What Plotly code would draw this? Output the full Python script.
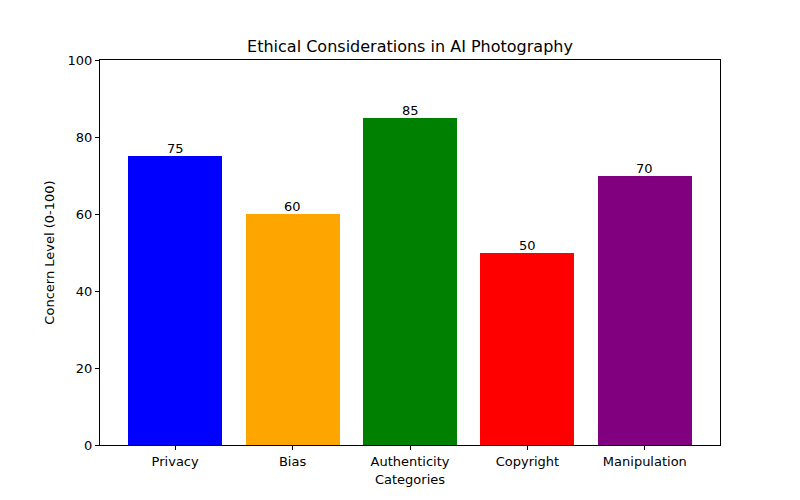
import plotly.graph_objects as go

categories = ["Privacy", "Bias", "Authenticity", "Copyright", "Manipulation"]
values = [75, 60, 85, 50, 70]
colors = ["blue", "orange", "green", "red", "purple"]
y_ticks = [0, 20, 40, 60, 80, 100]

font = "DejaVu Sans"
fig = go.Figure()
fig.add_trace(go.Bar(
    x=list(range(len(categories))), y=values, width=0.8,
    marker=dict(color=colors, line=dict(width=0)),
))
for i, v in enumerate(values):
    fig.add_annotation(x=i, y=v, text=str(v), showarrow=False, yanchor="bottom",
                       yshift=-2, font=dict(family=font, size=13, color="black"))
fig.update_layout(
    width=800, height=500,
    margin=dict(l=100, r=80, t=60, b=55),
    plot_bgcolor="white", paper_bgcolor="white",
    font=dict(family=font, size=13, color="black"),
    title=dict(text="Ethical Considerations in AI Photography", x=0.5125, xanchor="center",
               y=0.908, yanchor="middle", font=dict(family=font, size=16, color="black")),
    showlegend=False,
    bargap=0,
)
fig.update_xaxes(
    range=[-0.64, 4.64], tickmode="array", tickvals=list(range(len(categories))), ticktext=categories,
    showgrid=False, zeroline=False, showline=True, linecolor="black", linewidth=1, mirror=True,
    ticks="outside", ticklen=4, tickcolor="black",
    title=dict(text="Categories", standoff=7, font=dict(family=font, size=13)),
)
fig.update_yaxes(
    range=[0, 100], tickvals=y_ticks,
    showgrid=False, zeroline=False, showline=True, linecolor="black", linewidth=1, mirror=True,
    ticks="outside", ticklen=4, tickcolor="black",
    title=dict(text="Concern Level (0-100)", standoff=10, font=dict(family=font, size=13)),
)
fig.write_html("out.html")
